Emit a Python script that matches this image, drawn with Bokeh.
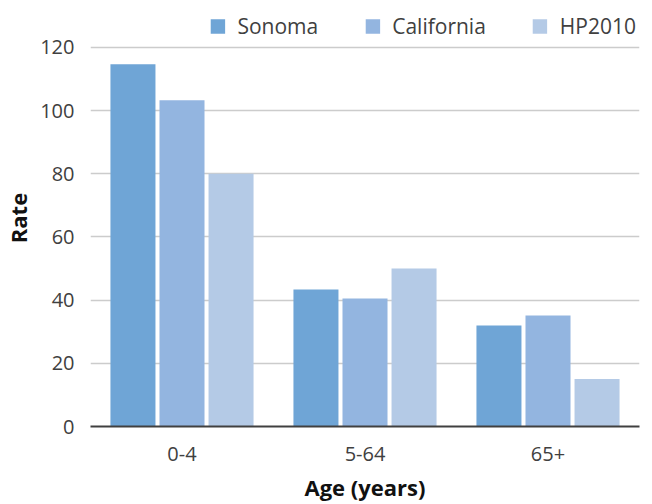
from bokeh.plotting import figure
from bokeh.models import ColumnDataSource, FactorRange, Range1d, Legend, LegendItem, FixedTicker
from bokeh.transform import dodge
from bokeh.embed import file_html
from bokeh.resources import INLINE

categories = ["0-4", "5-64", "65+"]
sonoma = [114.7, 43.4, 32.0]
california = [103.3, 40.5, 35.1]
hp2010 = [80, 50, 15]
series_names = ["Sonoma", "California", "HP2010"]
colors = ["#6FA5D6", "#93B5E0", "#B4CAE6"]
y_ticks = [0, 20, 40, 60, 80, 100, 120]

src = ColumnDataSource(dict(cat=categories, Sonoma=sonoma, California=california, HP2010=hp2010))

FONT = "Open Sans"
p = figure(frame_width=549, frame_height=417, output_backend="svg", toolbar_location=None,
           x_range=FactorRange(factors=categories, range_padding=0),
           y_range=Range1d(0, 132),
           min_border_left=86, min_border_right=3, min_border_top=9, min_border_bottom=60)
p.outline_line_color = None

offsets = [-0.268, 0.0, 0.268]
renderers = []
for name, col, off in zip(series_names, colors, offsets):
    r = p.vbar(x=dodge("cat", off, range=p.x_range), top=name, width=0.246, source=src,
               fill_color=col, line_color=None)
    renderers.append(r)

p.xgrid.grid_line_color = None
p.ygrid.grid_line_color = "#CCCCCC"
p.ygrid.grid_line_width = 1.5
p.yaxis.ticker = FixedTicker(ticks=y_ticks)

p.yaxis.axis_line_color = None
p.yaxis.major_tick_line_color = None
p.yaxis.minor_tick_line_color = None
p.yaxis.major_label_text_font = FONT
p.yaxis.major_label_text_font_size = "20px"
p.yaxis.major_label_text_color = "#404040"
p.yaxis.major_label_standoff = 10
p.yaxis.axis_label = "Rate"
p.yaxis.axis_label_text_font = FONT
p.yaxis.axis_label_text_font_style = "bold"
p.yaxis.axis_label_text_font_size = "22px"
p.yaxis.axis_label_text_color = "#111111"
p.yaxis.axis_label_standoff = 4

p.xaxis.axis_line_color = "#404040"
p.xaxis.axis_line_width = 2
p.xaxis.major_tick_line_color = None
p.xaxis.minor_tick_line_color = None
p.xaxis.major_label_text_font = FONT
p.xaxis.major_label_text_font_size = "20px"
p.xaxis.major_label_text_color = "#404040"
p.xaxis.major_label_standoff = 14
p.xaxis.axis_label = "Age (years)"
p.xaxis.axis_label_text_font = FONT
p.xaxis.axis_label_text_font_style = "bold"
p.xaxis.axis_label_text_font_size = "22px"
p.xaxis.axis_label_text_color = "#111111"
p.xaxis.axis_label_standoff = 8

legend = Legend(items=[LegendItem(label=n, renderers=[r]) for n, r in zip(series_names, renderers)],
                orientation="horizontal", location="top_right",
                label_text_font=FONT, label_text_font_size="21px", label_text_color="#404040",
                glyph_width=18, glyph_height=18, label_standoff=11, spacing=45,
                border_line_color=None, background_fill_alpha=0, padding=0, margin=3)
p.add_layout(legend)

open("out.html", "w").write(file_html(p, INLINE))
